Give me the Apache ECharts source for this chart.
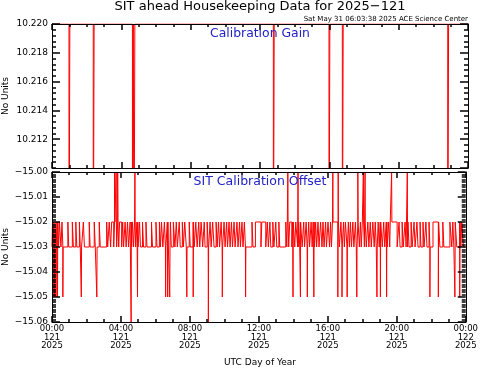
<!DOCTYPE html>
<html><head><meta charset="utf-8">
<script src="https://cdn.jsdelivr.net/npm/echarts@6/dist/echarts.min.js"></script>
<style>html,body{margin:0;padding:0;background:#fff}#c{width:481px;height:370px}</style>
</head><body><div id="c"></div><script>
// ---- text ----
const titleText = 'SIT ahead Housekeeping Data for 2025\u2212121';
const subtitleText = 'Sat May 31 06:03:38 2025 ACE Science Center';
const panelLabels = ['Calibration Gain', 'SIT Calibration Offset'];
const yAxisTitle = 'No Units';
const xAxisTitle = 'UTC Day of Year';
const xTickLabels = ['00:00\n121\n2025','04:00\n121\n2025','08:00\n121\n2025','12:00\n121\n2025','16:00\n121\n2025','20:00\n121\n2025','00:00\n122\n2025'];

// ---- Calibration Gain (hours of day, value) ----
const gainBase = 10.220;
const gainDipHours = [0.98, 2.38, 4.64, 4.73, 12.77, 15.98, 16.75, 22.83];
const gainDipValue = 10.200; // off-scale low

// ---- SIT Calibration Offset ----
const offsetBase = -15.03;
const offsetHigh = -15.02;
const offsetHighStart = [0.03,0.17,0.29,0.43,0.58,0.92,1.18,1.38,1.59,1.82,2.16,2.45,2.74,3.17,3.32,3.46,3.63,3.81,3.92,4.10,4.24,4.38,4.53,4.67,4.79,4.93,5.08,5.25,5.45,5.77,6.03,
6.23,6.35,6.52,6.69,6.87,7.04,7.21,7.38,7.56,7.70,7.96,8.19,8.34,8.51,8.65,8.83,9.00,9.17,9.32,9.52,9.66,9.81,9.98,10.13,10.27,10.41,10.56,10.73,10.88,11.02,11.16,11.60,11.80,12.17,12.49,12.64,12.81,12.98,13.16,
13.56,13.65,13.79,13.96,14.14,14.31,14.42,14.60,14.74,14.89,15.03,15.15,15.29,15.43,15.58,15.72,15.87,16.01,16.16,16.27,16.76,16.91,17.02,17.19,17.31,17.45,17.60,17.74,17.89,18.00,18.17,18.32,18.46,18.61,18.75,18.92,19.04,19.24,19.39,19.53,19.62,20.13,20.31,20.48,20.65,20.83,21.00,21.17,21.35,21.52,21.69,21.87,22.10,22.67,23.08,23.25,23.39,23.65,23.77];
const offsetHighEnd = [0.12,0.23,0.38,0.52,0.63,0.97,1.24,1.44,1.64,1.88,2.21,2.51,2.80,3.23,3.40,3.58,3.75,3.87,4.04,4.15,4.30,4.44,4.62,4.73,4.85,4.99,5.13,5.31,5.51,5.83,6.09,
6.29,6.43,6.58,6.75,6.92,7.13,7.27,7.44,7.62,7.79,8.02,8.25,8.42,8.57,8.74,8.88,9.06,9.23,9.40,9.58,9.72,9.87,10.04,10.18,10.33,10.47,10.62,10.79,10.93,11.08,11.22,11.66,12.12,12.40,12.55,12.69,12.87,13.04,13.21,
13.62,13.73,13.91,14.08,14.25,14.37,14.51,14.65,14.80,14.94,15.09,15.23,15.35,15.49,15.66,15.78,15.92,16.10,16.21,16.67,16.82,16.96,17.11,17.25,17.37,17.51,17.65,17.83,17.94,18.12,18.23,18.38,18.52,18.69,18.81,18.98,19.16,19.30,19.44,19.59,20.02,20.19,20.37,20.54,20.71,20.89,21.06,21.23,21.40,21.58,21.75,21.92,22.50,22.73,23.19,23.31,23.48,23.71,23.86];
const offsetSpikeHours = [0.06,0.14,0.23,0.32,0.63,1.70,2.60,3.63,3.72,3.81,4.59,4.81,4.96,6.59,6.71,6.83,7.82,8.19,9.07,9.88,11.23,13.68,13.98,14.27,14.41,14.81,15.19,16.29,16.58,16.60,16.82,17.12,17.68,17.74,18.06,18.16,18.85,19.05,19.41,19.70,20.61,21.92,22.41,23.37,23.65];
const offsetSpikeValues = [-15.05,-15.05,-15.05,-15.05,-15.05,-15.05,-15.05,-15.00,-15.00,-15.00,-15.06,-15.00,-15.05,-15.05,-15.05,-15.05,-15.05,-15.05,-15.06,-15.05,-15.05,-15.00,-15.05,-15.00,-15.05,-15.05,-15.05,-15.00,-15.05,-15.00,-15.05,-15.05,-15.05,-15.00,-15.00,-15.00,-15.05,-15.05,-15.05,-15.00,-15.00,-15.05,-15.05,-15.05,-15.05];

// ---- build line tables from change points (vertical transitions) ----
function stepTable(changes, startValue) {
  changes.sort((a, b) => a[0] - b[0]);
  const out = [[0, startValue]];
  let cur = startValue;
  changes.forEach(([t, v]) => { out.push([t, cur]); out.push([t, v]); cur = v; });
  out.push([24, cur]);
  return out;
}
const gainChanges = [];
gainDipHours.forEach(t => { gainChanges.push([t, gainDipValue]); gainChanges.push([t + 0.05, gainBase]); });
const gainData = stepTable(gainChanges, gainBase);

const levelAt = t => offsetHighStart.some((s, i) => t >= s && t < offsetHighEnd[i]) ? offsetHigh : offsetBase;
const offsetChanges = [];
offsetHighStart.forEach((s, i) => { offsetChanges.push([s, offsetHigh]); offsetChanges.push([offsetHighEnd[i], offsetBase]); });
offsetSpikeHours.forEach((t, i) => { offsetChanges.push([t, offsetSpikeValues[i]]); offsetChanges.push([t + 0.015, levelAt(t + 0.015)]); });
const offsetData = stepTable(offsetChanges, offsetBase);

// ---- chart ----
const FONT = 'DejaVu Sans';
const L = 52, W = 416;
const grids = [{left: L, top: 24, width: W, height: 144}, {left: L, top: 172, width: W, height: 150}];
const blk = '#000';
const TW = 1.5;
function xAx(grid, pos, interval, tickLen, showLine, labels) {
  return {
    type: 'value', gridIndex: grid, position: pos, min: 0, max: 24, interval: interval, z: 10,
    axisLine: {show: showLine, onZero: false, lineStyle: {color: blk, width: 1}},
    axisTick: {show: true, inside: true, length: tickLen, lineStyle: {color: blk, width: TW}},
    splitLine: {show: false},
    axisLabel: labels ? {show: true, margin: 3, fontFamily: FONT, fontSize: 8.5, lineHeight: 8.4, color: blk,
      formatter: v => xTickLabels[Math.round(v / 4)]} : {show: false}
  };
}
function yAx(grid, pos, min, max, interval, tickLen, showLine, fmt, showMin) {
  return {
    type: 'value', gridIndex: grid, position: pos, min: min, max: max, interval: interval, z: 10,
    axisLine: {show: showLine, onZero: false, lineStyle: {color: blk, width: 1}},
    axisTick: {show: true, inside: true, length: tickLen, lineStyle: {color: blk, width: TW}},
    splitLine: {show: false},
    axisLabel: fmt ? {show: true, margin: 4, fontFamily: FONT, fontSize: 9, color: blk, formatter: fmt,
      showMinLabel: showMin, showMaxLabel: true} : {show: false}
  };
}
const fmtGain = v => v.toFixed(3);
const fmtOff = v => (v < 0 ? '\u2212' : '') + Math.abs(v).toFixed(2);

const xAxes = [
  xAx(0, 'bottom', 4, 6, true, false), xAx(0, 'top', 4, 6, true, false),
  xAx(1, 'bottom', 4, 6, true, true), xAx(1, 'top', 4, 6, true, false),
  xAx(0, 'bottom', 1, 3, false, false), xAx(0, 'top', 1, 3, false, false),
  xAx(1, 'bottom', 1, 3, false, false), xAx(1, 'top', 1, 3, false, false)
];
const yAxes = [
  yAx(0, 'left', 10.210, 10.220, 0.002, 8, true, fmtGain, false),
  yAx(0, 'right', 10.210, 10.220, 0.002, 8, true, null),
  yAx(1, 'left', -15.06, -15.00, 0.01, 8, true, fmtOff, true),
  yAx(1, 'right', -15.06, -15.00, 0.01, 8, true, null),
  yAx(0, 'left', 10.210, 10.220, 0.0004, 4, false, null),
  yAx(0, 'right', 10.210, 10.220, 0.0004, 4, false, null),
  yAx(1, 'left', -15.06, -15.00, 0.001, 4, false, null),
  yAx(1, 'right', -15.06, -15.00, 0.001, 4, false, null)
];

const chart = echarts.init(document.getElementById('c'), null, {renderer: 'canvas'});
chart.setOption({
  animation: false,
  backgroundColor: '#fff',
  grid: grids,
  xAxis: xAxes,
  yAxis: yAxes,
  series: [
    {type: 'line', xAxisIndex: 0, yAxisIndex: 0, data: gainData, showSymbol: false, clip: true,
     lineStyle: {color: '#f00', width: 1}, silent: true},
    {type: 'line', xAxisIndex: 2, yAxisIndex: 2, data: offsetData, showSymbol: false, clip: true,
     lineStyle: {color: '#f00', width: 1}, silent: true}
  ],
  graphic: [
    {type: 'text', x: L + W / 2, y: 7, style: {text: titleText, font: '13px "DejaVu Sans"', fill: blk, textAlign: 'center', textVerticalAlign: 'middle'}},
    {type: 'text', x: L + W, y: 19, style: {text: subtitleText, font: '7px "DejaVu Sans"', fill: blk, textAlign: 'right', textVerticalAlign: 'middle'}},
    {type: 'text', x: L + W / 2, y: 33.5, z: 20, style: {text: panelLabels[0], font: '12.4px "DejaVu Sans"', fill: '#2222c8', textAlign: 'center', textVerticalAlign: 'middle'}},
    {type: 'text', x: L + W / 2, y: 182, z: 20, style: {text: panelLabels[1], font: '12.5px "DejaVu Sans"', fill: '#2222c8', textAlign: 'center', textVerticalAlign: 'middle'}},
    {type: 'text', x: 6, y: 96, rotation: Math.PI / 2, style: {text: yAxisTitle, font: '9px "DejaVu Sans"', fill: blk, textAlign: 'center', textVerticalAlign: 'middle'}},
    {type: 'text', x: 6, y: 247, rotation: Math.PI / 2, style: {text: yAxisTitle, font: '9px "DejaVu Sans"', fill: blk, textAlign: 'center', textVerticalAlign: 'middle'}},
    {type: 'text', x: L + W / 2, y: 363, style: {text: xAxisTitle, font: '9px "DejaVu Sans"', fill: blk, textAlign: 'center', textVerticalAlign: 'middle'}}
  ]
});
</script></body></html>
